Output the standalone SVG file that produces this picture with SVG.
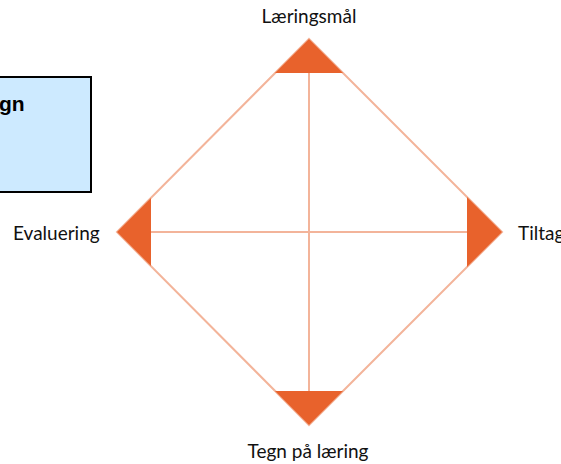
<svg xmlns="http://www.w3.org/2000/svg" width="561" height="464" viewBox="0 0 561 464">
<style>
.lbl{font-family:Lato,"Open Sans",sans-serif;font-size:19px;fill:#111}
.ln{stroke:#f3b49a;stroke-width:2;fill:none}
.tri{fill:#e8622c}
</style>
<rect width="561" height="464" fill="#fff"/>
<g id="box">
<rect x="-10" y="77" width="101" height="115" fill="#cdeaff" stroke="#000" stroke-width="2"/>
<text x="-1" y="111" font-family="Liberation Sans,Arial,sans-serif" font-weight="bold" font-size="21" fill="#000">gn</text>
</g>
<g id="connectors">
<polygon class="ln" points="309,39 502,232 309,425 117,232"/>
<line class="ln" x1="309" y1="73" x2="309" y2="391"/>
<line class="ln" x1="151" y1="232" x2="467" y2="232"/>
</g>
<g id="laeringsmaal">
<polygon class="tri" points="309,39 343,73 275,73"/>
<text class="lbl" x="309" y="23" text-anchor="middle">Læringsmål</text>
</g>
<g id="evaluering">
<polygon class="tri" points="117,232 151,198 151,266"/>
<text class="lbl" x="13" y="240">Evaluering</text>
</g>
<g id="tiltag">
<polygon class="tri" points="502,232 467,197 467,267"/>
<text class="lbl" x="518" y="240">Tiltag</text>
</g>
<g id="tegn">
<polygon class="tri" points="309,425 343,391 275,391"/>
<text class="lbl" x="308" y="458" text-anchor="middle">Tegn på læring</text>
</g>
</svg>
